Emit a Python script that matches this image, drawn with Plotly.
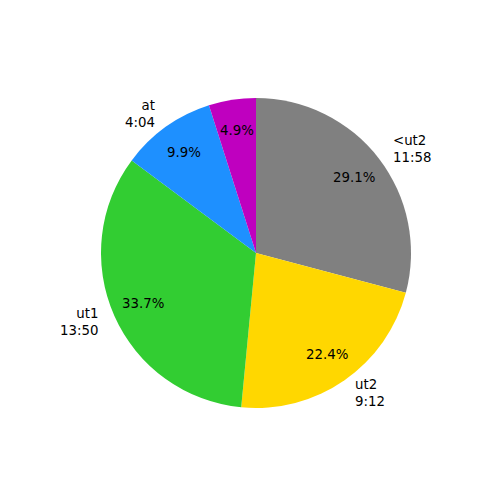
import math
import plotly.graph_objects as go

labels = ["<ut2", "ut2", "ut1", "at", ""]
seconds = [718, 552, 830, 244, 121]
time_labels = ["11:58", "9:12", "13:50", "4:04", ""]
colors = ["#808080", "#FFD700", "#32CD32", "#1E90FF", "#BF00BF"]

total = sum(seconds)
fig = go.Figure(go.Pie(
    labels=[f"s{i}" for i in range(len(seconds))], values=seconds, sort=False,
    direction="clockwise", rotation=0, textinfo="none", hoverinfo="skip",
    marker=dict(colors=colors, line=dict(width=0)), showlegend=False,
    domain=dict(x=[0, 1], y=[0, 1]),
))

font = dict(family="DejaVu Sans", size=13.33, color="black")
annotations = []
cum = 0.0
for lab, tl, v in zip(labels, time_labels, seconds):
    frac = v / total
    mid = math.radians(90 - 360 * (cum + frac / 2))
    cum += frac
    c, s = math.cos(mid), math.sin(mid)
    annotations.append(dict(
        x=0.5 + 0.4 * c, y=0.5 + 0.4 * s, xref="paper", yref="paper",
        text=f"{100 * frac:.1f}%", showarrow=False, font=font,
        xanchor="center", yanchor="middle"))
    if lab:
        align = "left" if c > 0 else "right"
        annotations.append(dict(
            x=0.5 + 0.55 * c, y=0.5 + 0.55 * s, xref="paper", yref="paper",
            text=f"{lab}<br>{tl}", showarrow=False, font=font, align=align,
            xanchor=align, yanchor="middle"))

fig.update_layout(
    width=500, height=500, paper_bgcolor="white", plot_bgcolor="white",
    margin=dict(l=93, r=97, t=90, b=100, autoexpand=False),
    annotations=annotations,
)
fig.write_html("out.html")
